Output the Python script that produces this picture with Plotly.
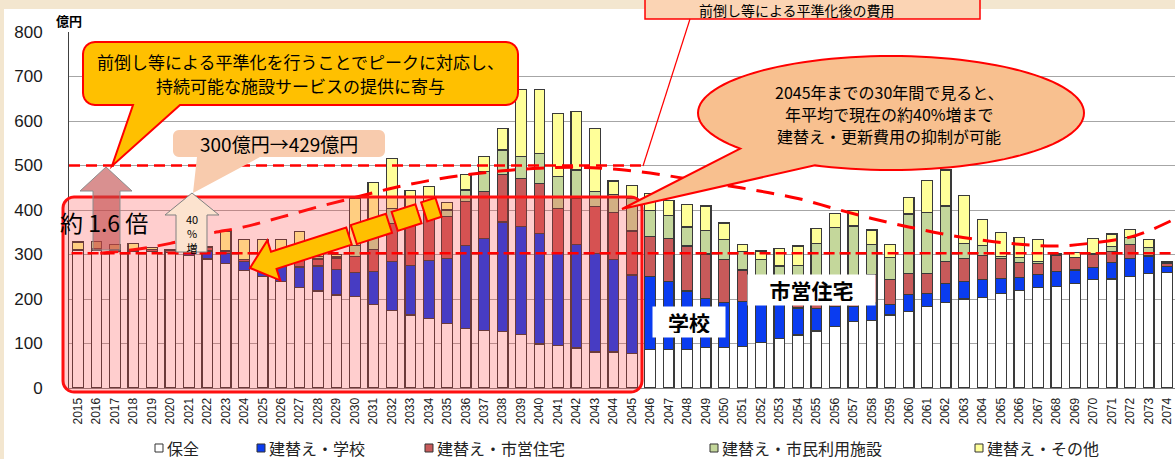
import math
import plotly.graph_objects as go

# ---------------- data ----------------
years = list(range(2015, 2075))

hozen = [310, 310, 308, 308, 307, 304, 298, 290, 280, 264,
         250, 239, 225, 218, 209, 205, 188, 175, 164, 156,
         145, 134, 130, 127, 120, 99, 96, 90, 81, 81,
         78, 87, 87, 86, 91, 91, 94, 102, 112, 119,
         128, 138, 150, 152, 164, 172, 184, 193, 200, 203,
         213, 220, 225, 228, 235, 243, 245, 250, 258, 259]
gakko = [0, 0, 0, 0, 0, 0, 8, 18, 23, 20,
         35, 38, 47, 56, 58, 55, 73, 109, 112, 131,
         146, 187, 206, 246, 243, 249, 209, 232, 222, 208,
         176, 164, 153, 132, 111, 102, 101, 120, 83, 61,
         51, 46, 34, 39, 24, 39, 29, 42, 39, 41,
         33, 29, 30, 33, 30, 28, 37, 41, 37, 14]
shiei = [0, 3, 3, 4, 5, 5, 2, 8, 5, 5,
         8, 12, 18, 16, 25, 35, 50, 86, 110, 109,
         94, 98, 105, 106, 108, 112, 99, 105, 105, 105,
         99, 90, 96, 101, 99, 95, 70, 30, 55, 45,
         51, 36, 41, 64, 55, 47, 45, 49, 52, 53,
         45, 33, 25, 37, 29, 29, 24, 32, 3, 8]
shimin = [0, 0, 0, 0, 0, 0, 0, 0, 0, 0,
          5, 5, 10, 5, 3, 26, 40, 34, 10, 11,
          15, 26, 45, 56, 49, 67, 71, 63, 33, 40,
          73, 57, 51, 43, 53, 45, 41, 37, 24, 51,
          95, 141, 139, 68, 50, 133, 137, 125, 34, 23,
          5, 11, 5, 2, 0, 2, 12, 16, 18, 2]
sonota = [18, 17, 12, 12, 4, 1, 0, 2, 45, 44,
          35, 39, 51, 10, 5, 105, 110, 111, 47, 45,
          17, 34, 35, 48, 151, 144, 142, 132, 142, 31,
          29, 39, 34, 51, 55, 38, 17, 19, 40, 43,
          34, 31, 34, 32, 30, 37, 72, 81, 107, 59,
          53, 46, 49, 2, 10, 34, 28, 18, 18, 2]

series_names = ["保全", "建替え・学校", "建替え・市営住宅", "建替え・市民利用施設", "建替え・その他"]
series_colors = ["#FFFFFF", "#0A3CF0", "#C85A5A", "#C4D79B", "#FFFF99"]

# smoothed (前倒し等による平準化後) cost curve
curve_years = [2016.2, 2018.2, 2020.0, 2022.0, 2024.0, 2026.0, 2028.0, 2030.0, 2032.0,
               2034.0, 2036.0, 2038.0, 2040.0, 2042.0, 2044.0, 2046.0, 2048.0, 2050.0,
               2052.0, 2054.0, 2056.0, 2058.0, 2060.0, 2062.0, 2064.0, 2066.0, 2068.0,
               2070.0, 2072.0, 2073.0, 2074.43]
curve_values = [303, 312, 325, 346, 362, 384, 407, 428, 449,
                466, 479, 488, 494, 496, 492, 483, 470, 456,
                442, 426, 403, 381, 362, 345, 332, 323, 319,
                326, 339, 353, 380]

current_level = 303
peak_level = 500
y_ticks = [0, 100, 200, 300, 400, 500, 600, 700, 800]

# ---------------- geometry helpers (pixel -> paper) ----------------
W, H = 1175, 459
L, R, T, B = 69, 1175, 32, 388


def P(x, y):
    return (x - L) / (R - L), (B - y) / (B - T)


def path_from(pts):
    s = []
    for i, (x, y) in enumerate(pts):
        a, b = P(x, y)
        s.append(("M" if i == 0 else "L") + f"{a:.5f},{b:.5f}")
    return " ".join(s) + " Z"


def arc(cx, cy, r, a0, a1, n=6):
    return [(cx + r * math.cos(math.radians(a0 + (a1 - a0) * k / n)),
             cy + r * math.sin(math.radians(a0 + (a1 - a0) * k / n))) for k in range(n + 1)]


def rrect(x0, y0, x1, y1, r, pointer=None):
    pts = []
    pts += arc(x0 + r, y0 + r, r, 180, 270)
    pts += arc(x1 - r, y0 + r, r, 270, 360)
    pts += arc(x1 - r, y1 - r, r, 0, 90)
    if pointer:
        pts += pointer
    pts += arc(x0 + r, y1 - r, r, 90, 180)
    return pts


def pshape(pts, fill, line_color=None, line_width=0, layer="above"):
    return dict(type="path", xref="paper", yref="paper", path=path_from(pts),
                fillcolor=fill, layer=layer,
                line=dict(color=line_color or "rgba(0,0,0,0)", width=line_width))


def ann(x, y, text, size, color="#000000", xanchor="center", yanchor="middle",
        family="Noto Sans CJK JP", weight="normal", **kw):
    a, b = P(x, y)
    d = dict(x=a, y=b, xref="paper", yref="paper", text=text, showarrow=False,
             xanchor=xanchor, yanchor=yanchor,
             font=dict(size=size, color=color, family=family, weight=weight))
    d.update(kw)
    return d


# ---------------- figure ----------------
fig = go.Figure()
for name, vals, col in zip(series_names, [hozen, gakko, shiei, shimin, sonota], series_colors):
    fig.add_trace(go.Bar(x=years, y=vals, name=name, width=0.58,
                         marker=dict(color=col, line=dict(color="#3a3a3a", width=1.2)),
                         showlegend=False))

fig.add_trace(go.Scatter(x=curve_years, y=curve_values, mode="lines", showlegend=False,
                         line=dict(color="#FF0000", width=3, dash="18px,11px", shape="spline")))

shapes = []
annotations = []

# beige strip at the very top / left
shapes.append(pshape([(0, -5), (1175, -5), (1175, 9), (0, 9)], "#F3E6CF"))
shapes.append(pshape([(0, 0), (4, 0), (4, 459), (0, 459)], "#F3E6CF"))

# translucent pink frame around 2015-2045
shapes.append(pshape(rrect(63, 197, 642, 392, 11), "rgba(255,60,60,0.25)", "#FF1010", 3))

# reference dashed lines
shapes.append(dict(type="line", xref="x", yref="y", x0=2014.65, x1=2074.43,
                   y0=current_level, y1=current_level, layer="above",
                   line=dict(color="#FF0000", width=2.5, dash="11px,5px")))
shapes.append(dict(type="line", xref="x", yref="y", x0=2014.51, x1=2045.7,
                   y0=peak_level, y1=peak_level, layer="above",
                   line=dict(color="#FF0000", width=2.5, dash="11px,6px")))

# big up arrow (約1.6倍)
shapes.append(pshape([(106, 167), (132, 191), (120, 191), (120, 250), (93, 250), (93, 191), (80, 191)],
                     "rgba(192,70,70,0.6)", "#8C8C8C", 1))
# small up arrow (40%増)
shapes.append(pshape([(192, 193), (219, 215), (207, 215), (207, 252), (176, 252), (176, 215), (165, 215)],
                     "#FCE3CF", "#808080", 1))

# 300億円→429億円 callout
shapes.append(pshape(rrect(173, 130, 385, 157, 6, pointer=[(260, 157), (193, 193), (197, 157)]),
                     "#F8CBAD"))

# orange callout at top-left
shapes.append(pshape(rrect(83, 42, 518, 105, 12, pointer=[(180, 105), (112, 166), (133, 105)]),
                     "#FFC000", "#FF0000", 2))

# orange arrow pointing down-left
tip = (250, 268)
tail = (430, 210)
dx, dy = tail[0] - tip[0], tail[1] - tip[1]
ln = math.hypot(dx, dy)
ux, uy = dx / ln, dy / ln
nx, ny = -uy, ux


def at(d, w):
    return (tip[0] + ux * d + nx * w, tip[1] + uy * d + ny * w)


hl, hw, sw = 25, 21, 9
shapes.append(pshape([at(0, 0), at(hl, hw), at(hl, sw), at(104, sw), at(104, -sw),
                      at(hl, -sw), at(hl, -hw)], "#FFC000", "#FF0000", 2))
for d0, d1 in [(109, 146), (152, 177), (183, 198)]:
    shapes.append(pshape([at(d0, sw + 1), at(d1, sw + 1), at(d1, -sw - 1), at(d0, -sw - 1)],
                         "#FFC000", "#FF0000", 2))

# speech ellipse with tail
cx, cy, rx, ry = 891, 113, 193, 57
ell = []
n = 120
t_a, t_b = 1.976, 2.468
for k in range(n + 1):
    t = 2 * math.pi * k / n
    if t_a < t < t_b:
        continue
    ell.append((cx + rx * math.cos(t), cy + ry * math.sin(t)))
    if k < n and t <= t_a < 2 * math.pi * (k + 1) / n:
        ell.append((cx + rx * math.cos(t_a), cy + ry * math.sin(t_a)))
        ell.append((622, 209))
        ell.append((cx + rx * math.cos(t_b), cy + ry * math.sin(t_b)))
shapes.append(pshape(ell, "#F8C08F", "#FF0000", 2))

# top box and its leader line
shapes.append(pshape([(645, -40), (980, -40), (980, 19), (645, 19)], "#FBD4B4", "#FF0000", 1.5))
a0, b0 = P(690, 19)
a1, b1 = P(643, 166)
shapes.append(dict(type="line", xref="paper", yref="paper", x0=a0, y0=b0, x1=a1, y1=b1,
                   line=dict(color="#FF0000", width=1.2), layer="above"))

# legend (custom)
legend_pos = [155, 257, 425, 710, 975]
for xpos, name, col in zip(legend_pos, series_names, series_colors):
    shapes.append(pshape([(xpos, 444), (xpos + 8, 444), (xpos + 8, 452), (xpos, 452)],
                         col, "#333333", 1))
    annotations.append(ann(xpos + 10, 448, name, 16, "#222222", xanchor="left"))

# texts
annotations.append(ann(69, 21, "億円", 13, weight="bold"))
annotations.append(ann(300, 62, "前倒し等による平準化を行うことでピークに対応し、", 17))
annotations.append(ann(300, 85, "持続可能な施設サービスの提供に寄与", 17))
annotations.append(ann(279, 143, "300億円→429億円", 19))
annotations.append(ann(104, 222, "約 1.6 倍", 23))
annotations.append(ann(192, 233, "40<br>%<br>増", 11, **{"align": "center"}))
annotations.append(ann(889, 92, "2045年までの30年間で見ると、", 16))
annotations.append(ann(889, 114, "年平均で現在の約40%増まで", 16))
annotations.append(ann(889, 136, "建替え・更新費用の抑制が可能", 16))
annotations.append(ann(797, 10, "前倒し等による平準化後の費用", 14))
annotations.append(ann(689, 322, "学校", 21, weight="bold", bgcolor="#FFFFFF",
                       width=64, height=22, borderpad=4))
annotations.append(ann(811, 290, "市営住宅", 21, weight="bold", bgcolor="#FFFFFF",
                       width=119, height=22, borderpad=4))

fig.update_layout(
    template="none",
    width=W, height=H,
    margin=dict(l=L, r=W - R, t=T, b=H - B, pad=0),
    barmode="stack",
    bargap=0.4,
    paper_bgcolor="#FFFFFF",
    plot_bgcolor="#FFFFFF",
    showlegend=False,
    font=dict(family="Noto Sans CJK JP", color="#000000"),
    shapes=shapes,
    annotations=annotations,
    xaxis=dict(range=[2014.51, 2074.43], tickmode="array", tickvals=years,
               ticktext=[str(y) for y in years], tickangle=-90,
               tickfont=dict(family="Liberation Sans", size=12, color="#222222"),
               showgrid=False, zeroline=False, showline=True, linecolor="#808080",
               ticks="", ticklabelstandoff=4, automargin=False, fixedrange=True),
    yaxis=dict(range=[0, 800], tickmode="array", tickvals=y_ticks,
               tickfont=dict(family="Liberation Sans", size=17, color="#1a1a1a"),
               showgrid=True, gridcolor="#A6A6A6", gridwidth=1, zeroline=False,
               showline=True, linecolor="#404040", linewidth=1, ticks="",
               ticklabelstandoff=22, automargin=False, fixedrange=True),
)

fig.write_html("out.html", config={"displayModeBar": False},
               post_script="document.body.style.margin='0px';document.body.style.overflow='hidden';")
